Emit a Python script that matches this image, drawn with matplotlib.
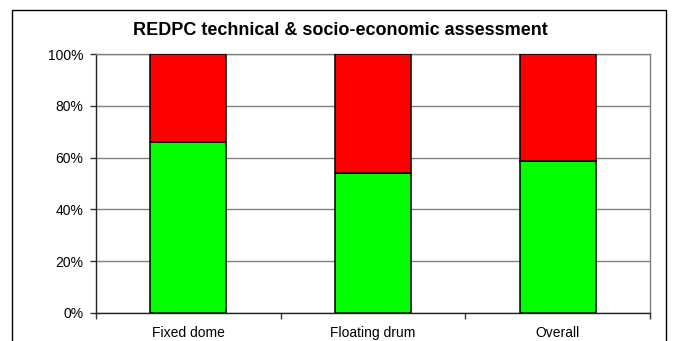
import matplotlib
matplotlib.use("Agg")
import matplotlib.pyplot as plt
from matplotlib.patches import Rectangle
from matplotlib.ticker import FuncFormatter, FixedLocator
import numpy as np

plt.rcParams['font.family'] = ['Liberation Sans', 'DejaVu Sans']

categories = ["Fixed dome", "Floating drum", "Overall"]
positive = [66.0, 54.0, 58.7]
negative = [34.0, 46.0, 41.3]
title = "REDPC technical & socio-economic assessment"

W, H = 673, 341
fig = plt.figure(figsize=(W / 100, H / 100), dpi=100)
ax = fig.add_axes([96 / W, (H - 313) / H, (650 - 96) / W, (313 - 54) / H])

x = np.arange(len(categories))
w = 0.41
ax.bar(x, positive, w, color="#00FF00", edgecolor="black", linewidth=1.1, zorder=3)
ax.bar(x, negative, w, bottom=positive, color="#FF0000", edgecolor="black", linewidth=1.1, zorder=3)

ax.set_xlim(-0.5, len(categories) - 0.5)
ax.set_ylim(0, 100)
ax.set_yticks(np.arange(0, 101, 20))
ax.yaxis.set_major_formatter(FuncFormatter(lambda v, p: f"{int(v)}%"))
ax.yaxis.grid(True, color="#808080", linewidth=1.0, zorder=0)

ax.set_xticks(x)
ax.set_xticklabels(categories, fontsize=10)
for lbl in ax.get_xticklabels():
    lbl.set_verticalalignment("baseline")
ax.xaxis.set_minor_locator(FixedLocator(np.arange(-0.5, len(categories), 1.0)))
ax.tick_params(axis='x', which='major', length=0, pad=17)
ax.tick_params(axis='x', which='minor', length=4, width=1, color="#333333")
ax.tick_params(axis='y', length=4, width=1, labelsize=10, pad=5, color="#333333")

for s in ["top", "right"]:
    ax.spines[s].set_color("#808080")
    ax.spines[s].set_linewidth(1.0)
for s in ["left", "bottom"]:
    ax.spines[s].set_color("#222222")
    ax.spines[s].set_linewidth(1.0)

fig.text(340 / W, 1 - 35 / H, title, ha="center", va="baseline",
         fontsize=13, fontweight="bold")

border = Rectangle((12 / W, -0.05), (666 - 12) / W, 1 - 10 / H + 0.05,
                   transform=fig.transFigure, fill=False, edgecolor="black",
                   linewidth=1.0)
fig.patches.append(border)

fig.savefig("out.png", dpi=100)
